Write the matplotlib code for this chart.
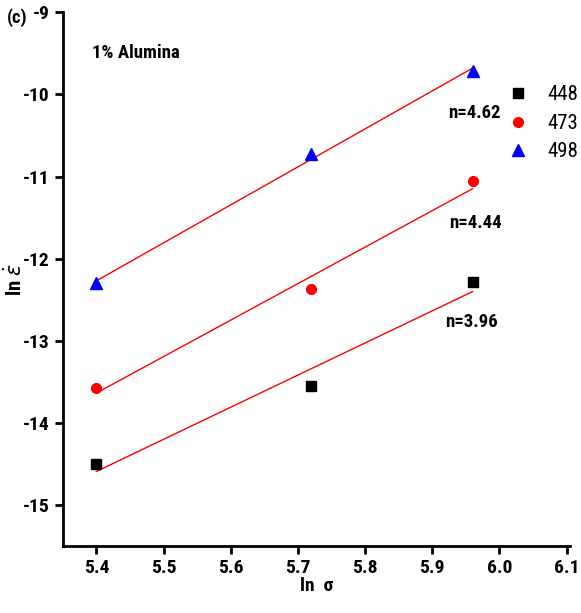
import matplotlib
matplotlib.use("Agg")
import matplotlib.pyplot as plt
import numpy as np
from matplotlib.font_manager import FontProperties

FAM = ['Roboto Condensed', 'Liberation Sans', 'DejaVu Sans']
plt.rcParams['font.family'] = FAM
plt.rcParams['mathtext.fontset'] = 'dejavusans'

def fp(size, weight='bold'):
    return FontProperties(family=FAM, weight=weight, size=size)

ln_sigma = [5.40, 5.72, 5.96]
temps = ['448', '473', '498']
ln_rate_448 = [-14.50, -13.55, -12.28]
ln_rate_473 = [-13.57, -12.37, -11.06]
ln_rate_498 = [-12.30, -10.72, -9.72]
n_values = ['3.96', '4.44', '4.62']

series = [ln_rate_448, ln_rate_473, ln_rate_498]
markers = ['s', 'o', '^']
colors = ['black', 'red', 'blue']
sizes = [7, 7, 8]

fs_tick, fs_txt = 14, 13.5

fig = plt.figure(figsize=(5.81, 6.13), dpi=100)
ax = fig.add_axes([0.108, 0.109, 0.873, 0.871])

x = np.array(ln_sigma)
for ys, m, c, s, t in zip(series, markers, colors, sizes, temps):
    ax.plot(x, ys, linestyle='none', marker=m, color=c, markersize=s, label=t, zorder=3)
    p = np.polyfit(x, ys, 1)
    xx = np.array([x.min(), x.max()])
    ax.plot(xx, np.polyval(p, xx), color='red', linewidth=1.0, zorder=2)

ax.text(5.963, -10.23, 'n=' + n_values[2], fontproperties=fp(fs_txt), ha='center', va='center')
ax.text(5.965, -11.56, 'n=' + n_values[1], fontproperties=fp(fs_txt), ha='center', va='center')
ax.text(5.958, -12.77, 'n=' + n_values[0], fontproperties=fp(fs_txt), ha='center', va='center')
ax.text(5.393, -9.5, '1% Alumina', fontproperties=fp(fs_txt), ha='left', va='center')
fig.text(0.012, 0.972, '(c)', fontproperties=fp(fs_txt), ha='left', va='center')

ax.set_xlim(5.35, 6.105)
ax.set_ylim(-15.5, -9)
ax.set_xticks([5.4, 5.5, 5.6, 5.7, 5.8, 5.9, 6.0, 6.1])
ax.set_yticks([-15, -14, -13, -12, -11, -10, -9])
ax.set_xticklabels(['5.4', '5.5', '5.6', '5.7', '5.8', '5.9', '6.0', '6.1'])
ax.set_yticklabels(['-15', '-14', '-13', '-12', '-11', '-10', '-9'])

for sp in ['top', 'right']:
    ax.spines[sp].set_visible(False)
for sp in ['left', 'bottom']:
    ax.spines[sp].set_linewidth(2)
ax.tick_params(direction='out', length=6, width=2)
for lab in ax.get_xticklabels() + ax.get_yticklabels():
    lab.set_fontproperties(fp(fs_tick))

ax.set_xlabel('ln  σ', fontproperties=fp(fs_tick), labelpad=0)
ax.set_ylabel(r'ln $\dot{\varepsilon}$', fontproperties=fp(fs_tick + 1))
ax.yaxis.set_label_coords(-0.072, 0.5)

leg = ax.legend(loc='upper left', bbox_to_anchor=(0.84, 0.898), frameon=False,
                prop=fp(fs_tick + 1, 'normal'), handletextpad=0.9, labelspacing=0.45,
                handlelength=1.0)

fig.savefig('out.png', dpi=100)
